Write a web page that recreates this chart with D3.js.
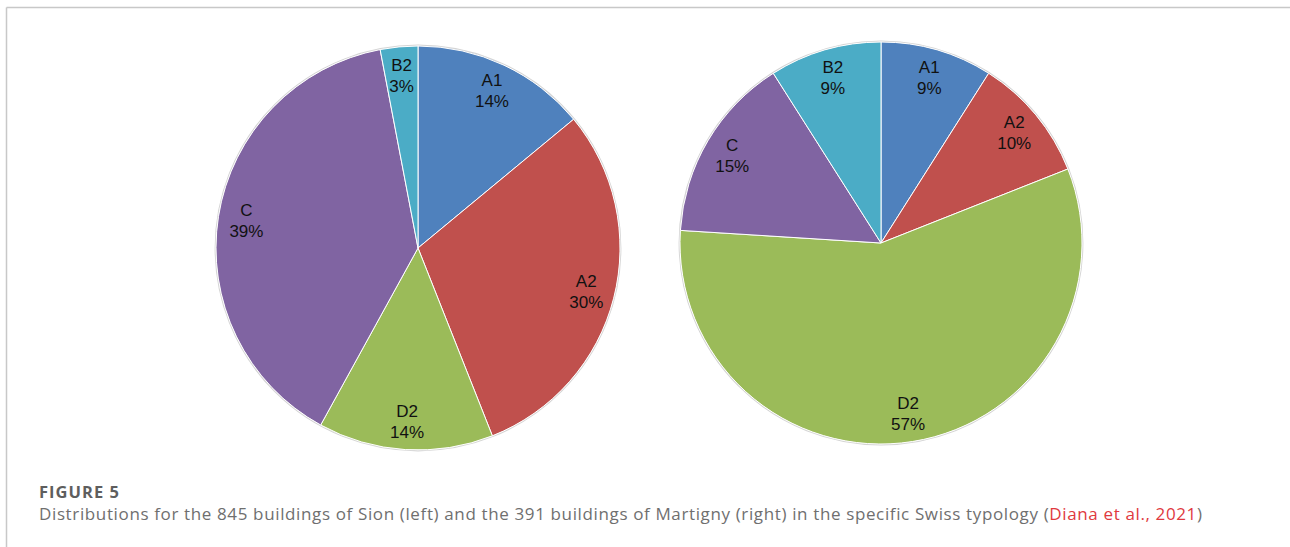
<!DOCTYPE html>
<html>
<head>
<meta charset="utf-8">
<script src="https://cdn.jsdelivr.net/npm/d3@7"></script>
<style>
  html, body { margin: 0; padding: 0; background: #fff; }
  svg { display: block; }
</style>
</head>
<body>
<svg id="chart" width="1290" height="547"></svg>
<script>
// ---- data ----
const categories = ["A1", "A2", "D2", "C", "B2"];
const sionValues = [14, 30, 14, 39, 3];        // % of 845 buildings (left)
const martignyValues = [9, 10, 57, 15, 9];     // % of 391 buildings (right)
const colors = ["#4F81BD", "#C0504D", "#9BBB59", "#8064A2", "#4BACC6"];
const figureLabel = "FIGURE 5";
const captionText = "Distributions for the 845 buildings of Sion (left) and the 391 buildings of Martigny (right) in the specific Swiss typology (";
const captionLink = "Diana et al., 2021";
const captionEnd = ")";

const svg = d3.select("#chart");

// frame lines
svg.append("line").attr("x1", 6.5).attr("x2", 1290).attr("y1", 7.5).attr("y2", 7.5)
  .attr("stroke", "#c8c8c8").attr("stroke-width", 1.5);
svg.append("line").attr("x1", 6.5).attr("x2", 6.5).attr("y1", 7.5).attr("y2", 547)
  .attr("stroke", "#c8c8c8").attr("stroke-width", 1.5);

const pie = d3.pie().sort(null).value(d => d.v);

function drawPie(values, cx, cy, R) {
  const data = categories.map((c, i) => ({ c, v: values[i], col: colors[i] }));
  const arcs = pie(data);
  const arc = d3.arc().innerRadius(0).outerRadius(R);
  const labelArc = d3.arc().innerRadius(R * 0.86).outerRadius(R * 0.86);
  const g = svg.append("g").attr("transform", `translate(${cx},${cy})`);
  g.append("circle").attr("r", R + 0.8).attr("fill", "none")
    .attr("stroke", "#d4d4d4").attr("stroke-width", 1.2);
  g.selectAll("path.slice").data(arcs).join("path")
    .attr("class", "slice")
    .attr("d", arc)
    .attr("fill", d => d.data.col)
    .attr("stroke", "#ffffff")
    .attr("stroke-width", 1);
  const lab = g.selectAll("text.lab").data(arcs).join("text")
    .attr("class", "lab")
    .attr("transform", d => `translate(${labelArc.centroid(d)})`)
    .attr("text-anchor", "middle")
    .attr("font-family", "'Liberation Sans', Arial, sans-serif")
    .attr("font-size", 17)
    .attr("fill", "#111");
  lab.append("tspan").attr("x", 0).attr("y", -4.5).text(d => d.data.c);
  lab.append("tspan").attr("x", 0).attr("y", 16.5).text(d => d.data.v + "%");
}

drawPie(sionValues, 418, 248, 202);
drawPie(martignyValues, 881, 243, 201);

// fit a text element's width to a target span by letter-spacing
function fitWidth(sel, target, nChars) {
  const w = sel.node().getComputedTextLength();
  sel.attr("letter-spacing", (target - w) / (nChars - 1));
}

// caption
const fig = svg.append("text").attr("x", 39).attr("y", 498)
  .attr("font-family", "'Open Sans', Lato, sans-serif")
  .attr("font-weight", 700).attr("font-size", 16.5).attr("fill", "#5e5e5e")
  .text(figureLabel);
fitWidth(fig, 80, figureLabel.length);

const cap = svg.append("text").attr("x", 39).attr("y", 520)
  .attr("font-family", "'Open Sans', Lato, sans-serif")
  .attr("font-size", 17).attr("fill", "#6f6f6f");
cap.append("tspan").text(captionText);
cap.append("tspan").attr("fill", "#e0393e").text(captionLink);
cap.append("tspan").text(captionEnd);
fitWidth(cap, 1163, (captionText + captionLink + captionEnd).length);
</script>
</body>
</html>
